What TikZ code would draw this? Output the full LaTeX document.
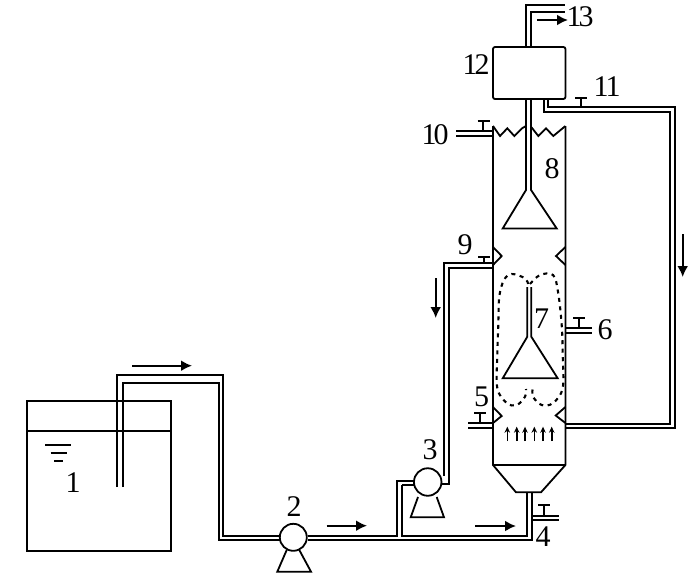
\documentclass[tikz,border=0pt]{standalone}
\usepackage{fontspec}
\setmainfont{Liberation Serif}
\usetikzlibrary{arrows.meta}
\tikzset{
  ln/.style={line width=1.8pt,line join=miter},
  flow/.style={line width=2.1pt,-{Latex[length=11pt,width=11pt]}},
  flowa/.style={line width=1.6pt,-{Stealth[length=6pt,width=5.5pt]}},
  lab/.style={font=\fontsize{30}{32}\selectfont,inner sep=0pt},
  flowd/.style={line width=2.1pt,dash pattern=on 4pt off 4.5pt,smooth,tension=0.6}
}
\newcommand{\tightnum}[2]{#1\kern-3pt #2}
\begin{document}
\begin{tikzpicture}[x=1pt,y=-1pt]
\useasboundingbox (0,0) rectangle (700,579);
\fill[white] (0,0) rectangle (700,579);
% tank
\draw[ln] (27.3,401) rectangle (170.7,551);
\draw[ln] (27.3,431) -- (170.7,431);
\draw[ln] (45,445.3) -- (70.7,445.3) (50.7,453.3) -- (66.7,453.3) (54.3,460.7) -- (63.3,460.7);
% inlet pipe
\draw[ln] (117.3,487) -- (117.3,375) -- (223.3,375) -- (223.3,536) -- (280,536);
\draw[ln] (123.3,487) -- (123.3,382.7) -- (219.3,382.7) -- (219.3,540) -- (280,540);
% pump 2
\node[circle,draw,line width=1.8pt,minimum size=27pt,inner sep=0pt,fill=white] (pumpB) at (293.3,537.3) {};
\draw[ln] (286.7,550) -- (277.3,571.7) -- (311,571.7) -- (299.3,550);
% main line
\draw[ln] (pumpB.east |- 0,536) -- (397,536) -- (397,480.7) -- (414.5,480.7);
\draw[ln] (pumpB.east |- 0,540) -- (532,540) -- (532,492.3);
\draw[ln] (402,485) -- (402,536) -- (527.3,536) -- (527.3,492.3);
\draw[ln] (402,485) -- (414.5,485);
% pump 3
\node[circle,draw,line width=1.8pt,minimum size=27.5pt,inner sep=0pt,fill=white] (pumpC) at (427.7,482) {};
\draw[ln] (418,497) -- (410.7,517.3) -- (444,517.3) -- (436.7,497);
% recycle 9
\draw[ln] (493,263) -- (444,263) -- (444,476);
\draw[ln] (493,268) -- (449,268) -- (449,484) -- (441.5,484);
% column
\draw[ln] (493,126) -- (493,465) -- (516,492.3) -- (541,492.3) -- (565.4,465) -- (565.4,126);
\draw[ln] (493,465) -- (565.4,465);
\draw[ln] (493,126) -- (500,136) -- (507.3,128.3) -- (514.3,136) -- (522,128.3) -- (526,126);
\draw[ln] (531,126.7) -- (538.3,136) -- (546,128.3) -- (553.3,136) -- (565.4,126);
% baffles
\draw[ln] (493,247) -- (501.7,256) -- (493,265);
\draw[ln] (565.4,247) -- (556,256) -- (565.4,265);
\draw[ln] (493,407) -- (501.7,416) -- (493,423);
\draw[ln] (565.4,407) -- (555.7,415.5) -- (565.4,423);
% box 12
\draw[ln,rounded corners=2pt,fill=white] (493,47) rectangle (565.4,99);
% top gas pipe
\draw[ln] (526,47) -- (526,5) -- (565,5);
\draw[ln] (531,47) -- (531,12) -- (565,12);
% separator 8
\draw[ln] (526,99) -- (526,190) -- (502.7,228.5) -- (556.7,228.5) -- (531,190) -- (531,99);
% separator 7
\draw[ln] (527.3,287) -- (527.3,336.7) -- (502.7,378.3) -- (557.7,378.3) -- (531.3,336.7) -- (531.3,287);
% recycle 11
\draw[ln] (544,99) -- (544,112.3) -- (670,112.3) -- (670,424.3) -- (565.4,424.3);
\draw[ln] (548,99) -- (548,107) -- (675,107) -- (675,427.7) -- (565.4,427.7);
% side pipes
\draw[ln] (456,130.7) -- (493,130.7) (456,136) -- (493,136);
\draw[ln] (565.4,328) -- (592,328) (565.4,333) -- (592,333);
\draw[ln] (468,423) -- (493,423) (468,428) -- (493,428);
\draw[ln] (532,516) -- (559,516) (532,520) -- (559,520);
% valves
\draw[ln] (483,130.7) -- (483,121) (477.7,121) -- (489.5,121);
\draw[ln] (581,107) -- (581,98) (575,98) -- (587,98);
\draw[ln] (484,263) -- (484,257) (478,257) -- (490,257);
\draw[ln] (578.7,328) -- (578.7,318) (573,318) -- (585,318);
\draw[ln] (480,423) -- (480,413) (474,413) -- (486,413);
\draw[ln] (544,516) -- (544,505) (538,505) -- (550,505);
% dashed flow
\draw[flowd] plot coordinates {(528,284) (525,278.3) (511.7,274) (504,280) (499.3,296.7) (498.3,325) (497.3,355) (497.3,388) (506.7,403) (516.7,405) (525,396.7) (526,389)};
\draw[flowd] plot coordinates {(530,284) (540,275) (553,275) (558,291.7) (561.7,325) (562.7,355) (562.7,388) (553,403) (541.7,405) (533,396.7) (532.7,389)};
% arrows
\draw[flow] (132,365.7) -- (192,365.7);
\draw[flow] (326.7,525.7) -- (367,525.7);
\draw[flow] (475,526) -- (516,526);
\draw[flow] (537,20) -- (568,20);
\draw[flow] (682.7,234) -- (682.7,277);
\draw[flow] (435.7,278) -- (435.7,318);
\foreach \x in {507.3,516.7,525,534.3,543,551.7} \draw[flowa] (\x,441) -- (\x,426.7);
% labels
\node[lab] (n1) at (73,483) {1};
\node[lab] (n2) at (294,506.7) {2};
\node[lab] (n3) at (430,450) {3};
\node[lab] (n4) at (543,537) {4};
\node[lab] (n5) at (481.7,397) {5};
\node[lab] (n6) at (605,330) {6};
\node[lab] (n7) at (541.7,319) {7};
\node[lab] (n8) at (552,169) {8};
\node[lab] (n9) at (465,245) {9};
\node[lab] (n10) at (435,135) {\tightnum{1}{0}};
\node[lab] (n11) at (607,87) {\tightnum{1}{1}};
\node[lab] (n12) at (476,65) {\tightnum{1}{2}};
\node[lab] (n13) at (580,17) {\tightnum{1}{3}};
\end{tikzpicture}
\end{document}
